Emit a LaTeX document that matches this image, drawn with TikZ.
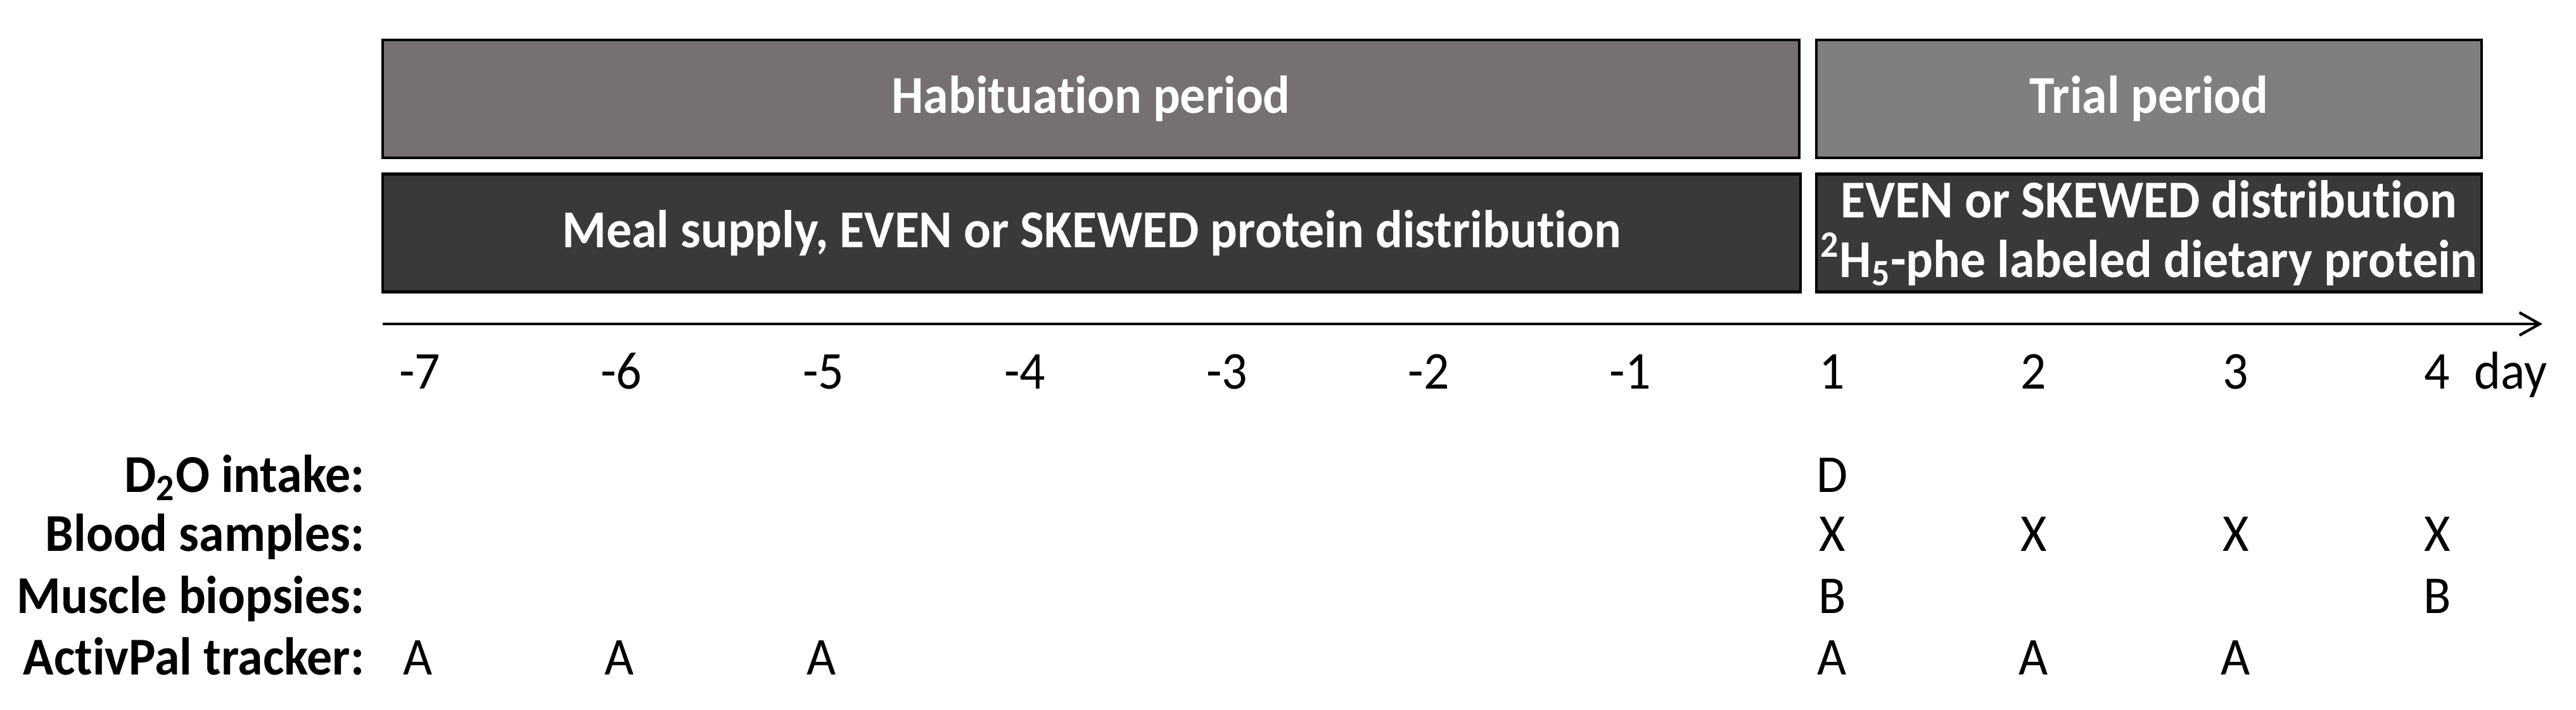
\documentclass[tikz,border=0pt]{standalone}
\usepackage{fontspec}
\setmainfont{Carlito}[FakeStretch=0.95, Ligatures=NoCommon]
\usetikzlibrary{arrows.meta}
\definecolor{habgray}{RGB}{118,112,112}
\definecolor{trialgray}{RGB}{127,127,127}
\definecolor{mealdark}{RGB}{58,56,56}

\begin{document}
\begin{tikzpicture}
                \tikzset{period/.style = {draw=black, line width=1.2pt, inner sep=0pt, minimum height=1.86cm, text=white, align=center, font=\fontsize{23.9}{26.7}\selectfont\bfseries}}
                \tikzset{daylabel/.style = {anchor=base, font=\fontsize{23.9}{26.7}\selectfont}}
                \tikzset{rowlabel/.style = {anchor=base east, inner sep=0pt, font=\fontsize{23.9}{26.7}\selectfont\bfseries}}
                \tikzset{sample/.style = {anchor=base, font=\fontsize{23.9}{26.7}\selectfont}}
                \tikzset{timeline/.style = {-{Straight Barb[length=3.2mm,width=3.6mm]}, line width=1.2pt}}

                \useasboundingbox (0,0) rectangle (40.66,-11.2);

                % period boxes
                \node[period, fill=habgray, minimum width=22.36cm] (hab) at (17.22,-1.56) {Habituation period};
                \node[period, fill=trialgray, minimum width=10.50cm] (trial) at (33.92,-1.56) {Trial period};
                \node[period, fill=mealdark, minimum width=22.38cm] (meal) at (17.23,-3.675) {Meal supply, EVEN or SKEWED protein distribution};
                \node[period, fill=mealdark, minimum width=10.50cm] (even) at (33.92,-3.675) {EVEN or SKEWED distribution\\\textsuperscript{2}H\textsubscript{5}-phe labeled dietary protein};

                % time axis
                \coordinate (axisstart) at (6.04,-5.11);
                \coordinate (axisend) at (40.13,-5.11);
                \draw[timeline] (axisstart) -- (axisend);

                \node[daylabel] (tm7) at (6.63,-6.13) {-7};
                \node[daylabel] (tm6) at (9.81,-6.13) {-6};
                \node[daylabel] (tm5) at (13.00,-6.13) {-5};
                \node[daylabel] (tm4) at (16.18,-6.13) {-4};
                \node[daylabel] (tm3) at (19.37,-6.13) {-3};
                \node[daylabel] (tm2) at (22.55,-6.13) {-2};
                \node[daylabel] (tm1) at (25.73,-6.13) {-1};
                \node[daylabel] (t1) at (28.92,-6.13) {1};
                \node[daylabel] (t2) at (32.10,-6.13) {2};
                \node[daylabel] (t3) at (35.29,-6.13) {3};
                \node[daylabel] (t4) at (38.47,-6.13) {4};
                \node[daylabel] (day) at (39.63,-6.13) {day};

                % measurements
                \node[rowlabel] (dtwoo) at (5.76,-7.76) {D\textsubscript{2}O intake:};
                \node[rowlabel] (blood) at (5.76,-8.69) {Blood samples:};
                \node[rowlabel] (muscle) at (5.76,-9.67) {Muscle biopsies:};
                \node[rowlabel] (activpal) at (5.76,-10.64) {ActivPal tracker:};

                \node[sample] (d1) at (28.92,-7.76) {D};

                \node[sample] (x1) at (28.92,-8.69) {X};
                \node[sample] (x2) at (32.10,-8.69) {X};
                \node[sample] (x3) at (35.29,-8.69) {X};
                \node[sample] (x4) at (38.47,-8.69) {X};

                \node[sample] (b1) at (28.92,-9.67) {B};
                \node[sample] (b4) at (38.47,-9.67) {B};

                \node[sample] (am7) at (6.60,-10.64) {A};
                \node[sample] (am6) at (9.78,-10.64) {A};
                \node[sample] (am5) at (12.97,-10.64) {A};
                \node[sample] (a1) at (28.92,-10.64) {A};
                \node[sample] (a2) at (32.10,-10.64) {A};
                \node[sample] (a3) at (35.29,-10.64) {A};
            \end{tikzpicture}
\end{document}
